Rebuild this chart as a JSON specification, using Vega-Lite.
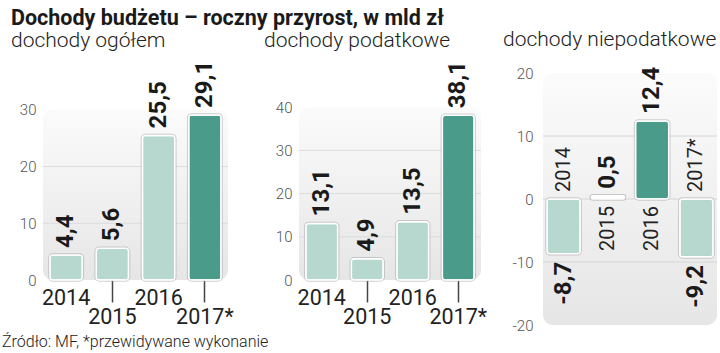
{
  "$schema": "https://vega.github.io/schema/vega-lite/v6.json",
  "padding": {"left": 2, "top": 7, "right": 0, "bottom": 0},
  "background": "#ffffff",
  "datasets": {
    "ogolem": [
      {"rok": "2014", "wartosc": 4.4},
      {"rok": "2015", "wartosc": 5.6},
      {"rok": "2016", "wartosc": 25.5},
      {"rok": "2017*", "wartosc": 29.1}
    ],
    "podatkowe": [
      {"rok": "2014", "wartosc": 13.1},
      {"rok": "2015", "wartosc": 4.9},
      {"rok": "2016", "wartosc": 13.5},
      {"rok": "2017*", "wartosc": 38.1}
    ],
    "niepodatkowe": [
      {"rok": "2014", "wartosc": -8.7},
      {"rok": "2015", "wartosc": 0.5},
      {"rok": "2016", "wartosc": 12.4},
      {"rok": "2017*", "wartosc": -9.2}
    ]
  },
  "title": {
    "text": "Dochody budżetu – roczny przyrost, w mld zł",
    "anchor": "start",
    "frame": "bounds",
    "dx": 9,
    "offset": -17,
    "baseline": "alphabetic",
    "font": "Roboto",
    "fontSize": 21.5,
    "fontWeight": "bold",
    "color": "#1a1a1a"
  },
  "vconcat": [
    {
      "title": {
        "text": "Źródło: MF, *przewidywane wykonanie",
        "orient": "bottom",
        "anchor": "start",
        "frame": "bounds",
        "dx": -9,
        "offset": 1,
        "font": "Roboto",
        "fontSize": 16,
        "fontWeight": 300,
        "color": "#222222"
      },
      "spacing": 30,
      "hconcat": [
        {
          "width": 185,
          "height": 207,
          "title": {"text": "dochody ogółem", "anchor": "start", "frame": "group", "dx": -32, "offset": -7, "baseline": "alphabetic", "font": "Roboto", "fontWeight": 300, "fontSize": 21, "color": "#222222"},
          "resolve": {"scale": {"x": "independent"}, "axis": {"x": "independent"}},
          "layer": [
            {"data": {"values": [{}]},
              "mark": {"type": "rect", "cornerRadius": 10, "fill": {"gradient": "linear", "x1": 0, "y1": 0, "x2": 0, "y2": 1, "stops": [{"offset": 0, "color": "#fbfbfb"}, {"offset": 1, "color": "#e6e6e6"}]}},
              "encoding": {
                "x": {"datum": 0, "type": "quantitative", "scale": {"domain": [0, 1], "nice": false, "zero": false}, "axis": null},
                "x2": {"datum": 1},
                "y": {"datum": 0, "type": "quantitative", "scale": {"domain": [0, 36.5], "nice": false}, "axis": {"title": null, "values": [0, 10, 20, 30], "format": "d"}},
                "y2": {"datum": 30}
              }},
            {"data": {"values": [{"siatka": 10}, {"siatka": 20}]},
              "mark": {"type": "rule", "color": "#dcdcdc", "strokeWidth": 1},
              "encoding": {"y": {"field": "siatka", "type": "quantitative"}}},
            {"data": {"name": "ogolem"},
              "encoding": {
                "x": {"field": "rok", "type": "nominal", "sort": null,
                  "scale": {"paddingInner": 0.3, "paddingOuter": 0.15},
                  "axis": {"title": null, "domain": false, "labelAngle": 0, "labelOverlap": false, "labelFont": "Roboto", "labelFontSize": 21.5, "labelColor": "#222222", "tickColor": "#444444", "tickWidth": 1.5,
                    "tickSize": {"condition": {"test": "datum.value === '2015' || datum.value === '2017*'", "value": 22}, "value": 0},
                    "labelPadding": {"condition": {"test": "datum.value === '2015' || datum.value === '2017*'", "value": 4}, "value": 7}}},
                "y": {"field": "wartosc", "type": "quantitative"}
              },
              "layer": [
                {"mark": {"type": "bar", "cornerRadius": 3, "fill": "#ffffff", "stroke": "#9a9a9a", "strokeWidth": 3.5, "strokeOpacity": 0.45}},
                {"mark": {"type": "bar", "cornerRadius": 3, "stroke": "#ffffff", "strokeWidth": 1.5},
                  "encoding": {"fill": {"condition": {"test": "datum.rok === '2017*'", "value": "#4b9b8b"}, "value": "#b6d8cf"}}},
                {"mark": {"type": "text", "angle": 270, "align": "left", "baseline": "middle", "dx": 7, "font": "Roboto", "fontSize": 24, "fontWeight": "bold", "fill": "#1a1a1a"},
                  "encoding": {"text": {"field": "wartosc", "type": "quantitative", "format": ".1f"}}}
              ]}
          ]
        },
        {
          "spacing": 16,
          "hconcat": [
            {
              "width": 182,
              "height": 207,
              "title": {"text": "dochody podatkowe", "anchor": "start", "frame": "group", "dx": -35, "offset": -7, "baseline": "alphabetic", "font": "Roboto", "fontWeight": 300, "fontSize": 21, "color": "#222222"},
              "resolve": {"scale": {"x": "independent"}, "axis": {"x": "independent"}},
              "layer": [
                {"data": {"values": [{}]},
                  "mark": {"type": "rect", "cornerRadius": 10, "fill": {"gradient": "linear", "x1": 0, "y1": 0, "x2": 0, "y2": 1, "stops": [{"offset": 0, "color": "#fbfbfb"}, {"offset": 1, "color": "#e6e6e6"}]}},
                  "encoding": {
                    "x": {"datum": 0, "type": "quantitative", "scale": {"domain": [0, 1], "nice": false, "zero": false}, "axis": null},
                    "x2": {"datum": 1},
                    "y": {"datum": 0, "type": "quantitative", "scale": {"domain": [0, 47.9], "nice": false}, "axis": {"title": null, "values": [0, 10, 20, 30, 40], "format": "d"}},
                    "y2": {"datum": 40}
                  }},
                {"data": {"values": [{"siatka": 10}, {"siatka": 20}, {"siatka": 30}]},
                  "mark": {"type": "rule", "color": "#dcdcdc", "strokeWidth": 1},
                  "encoding": {"y": {"field": "siatka", "type": "quantitative"}}},
                {"data": {"name": "podatkowe"},
                  "encoding": {
                    "x": {"field": "rok", "type": "nominal", "sort": null,
                      "scale": {"paddingInner": 0.3, "paddingOuter": 0.15},
                      "axis": {"title": null, "domain": false, "labelAngle": 0, "labelOverlap": false, "labelFont": "Roboto", "labelFontSize": 21.5, "labelColor": "#222222", "tickColor": "#444444", "tickWidth": 1.5,
                        "tickSize": {"condition": {"test": "datum.value === '2015' || datum.value === '2017*'", "value": 22}, "value": 0},
                        "labelPadding": {"condition": {"test": "datum.value === '2015' || datum.value === '2017*'", "value": 4}, "value": 7}}},
                    "y": {"field": "wartosc", "type": "quantitative"}
                  },
                  "layer": [
                    {"mark": {"type": "bar", "cornerRadius": 3, "fill": "#ffffff", "stroke": "#9a9a9a", "strokeWidth": 3.5, "strokeOpacity": 0.45}},
                    {"mark": {"type": "bar", "cornerRadius": 3, "stroke": "#ffffff", "strokeWidth": 1.5},
                      "encoding": {"fill": {"condition": {"test": "datum.rok === '2017*'", "value": "#4b9b8b"}, "value": "#b6d8cf"}}},
                    {"mark": {"type": "text", "angle": 270, "align": "left", "baseline": "middle", "dx": 7, "font": "Roboto", "fontSize": 24, "fontWeight": "bold", "fill": "#1a1a1a"},
                      "encoding": {"text": {"field": "wartosc", "type": "quantitative", "format": ".1f"}}}
                  ]}
              ]
            },
            {
              "width": 174,
              "height": 252,
              "title": {"text": "dochody niepodatkowe", "anchor": "start", "frame": "group", "dx": -40, "offset": -1, "baseline": "alphabetic", "font": "Roboto", "fontWeight": 300, "fontSize": 21, "color": "#222222"},
              "resolve": {"scale": {"x": "independent"}, "axis": {"x": "independent"}},
              "layer": [
                {"data": {"values": [{}]},
                  "mark": {"type": "rect", "cornerRadius": 10, "fill": {"gradient": "linear", "x1": 0, "y1": 0, "x2": 0, "y2": 1, "stops": [{"offset": 0, "color": "#fbfbfb"}, {"offset": 1, "color": "#e6e6e6"}]}},
                  "encoding": {
                    "x": {"datum": 0, "type": "quantitative", "scale": {"domain": [0, 1], "nice": false, "zero": false}, "axis": null},
                    "x2": {"datum": 1},
                    "y": {"datum": -20, "type": "quantitative", "scale": {"domain": [-20, 20], "nice": false}, "axis": {"title": null, "values": [-20, -10, 0, 10, 20], "format": "d", "labelPadding": 10}},
                    "y2": {"datum": 20}
                  }},
                {"data": {"values": [{"siatka": -10}, {"siatka": 0}, {"siatka": 10}]},
                  "mark": {"type": "rule", "color": "#d6d6d6", "strokeWidth": 1},
                  "encoding": {"y": {"field": "siatka", "type": "quantitative"}}},
                {"data": {"name": "niepodatkowe"},
                  "encoding": {
                    "x": {"field": "rok", "type": "nominal", "sort": null,
                      "scale": {"paddingInner": 0.25, "paddingOuter": 0.09},
                      "axis": null},
                    "y": {"field": "wartosc", "type": "quantitative"}
                  },
                  "layer": [
                    {"mark": {"type": "bar", "cornerRadius": 3, "fill": "#ffffff", "stroke": "#9a9a9a", "strokeWidth": 3.5, "strokeOpacity": 0.45}},
                    {"mark": {"type": "bar", "cornerRadius": 3, "stroke": "#ffffff", "strokeWidth": 1.5},
                      "encoding": {"fill": {"condition": [{"test": "datum.rok === '2016'", "value": "#4b9b8b"}, {"test": "datum.rok === '2015'", "value": "#ffffff"}], "value": "#b6d8cf"}}},
                    {"transform": [{"filter": "datum.wartosc >= 0"}],
                      "mark": {"type": "text", "angle": 270, "align": "left", "baseline": "middle", "dx": 7, "font": "Roboto", "fontSize": 24, "fontWeight": "bold", "fill": "#1a1a1a"},
                      "encoding": {"text": {"field": "wartosc", "type": "quantitative", "format": ".1f"}}},
                    {"transform": [{"filter": "datum.wartosc < 0"}],
                      "mark": {"type": "text", "angle": 270, "align": "right", "baseline": "middle", "dx": -8, "font": "Roboto", "fontSize": 24, "fontWeight": "bold", "fill": "#1a1a1a"},
                      "encoding": {"text": {"field": "wartosc", "type": "quantitative", "format": ".1f"}}},
                    {"transform": [{"filter": "datum.wartosc < 0"}],
                      "mark": {"type": "text", "angle": 270, "align": "left", "baseline": "middle", "dx": 7, "font": "Roboto", "fontSize": 20, "fill": "#222222"},
                      "encoding": {"y": {"datum": 0, "type": "quantitative"}, "text": {"field": "rok", "type": "nominal"}}},
                    {"transform": [{"filter": "datum.wartosc >= 0"}],
                      "mark": {"type": "text", "angle": 270, "align": "right", "baseline": "middle", "dx": -7, "font": "Roboto", "fontSize": 20, "fill": "#222222"},
                      "encoding": {"y": {"datum": 0, "type": "quantitative"}, "text": {"field": "rok", "type": "nominal"}}}
                  ]}
              ]
            }
          ]
        }
      ]
    }
  ],
  "config": {
    "locale": {"number": {"decimal": ",", "thousands": " ", "grouping": [3], "currency": ["", " zł"], "minus": "-"}},
    "view": {"stroke": null},
    "axisY": {"domain": false, "ticks": false, "grid": false, "labelFont": "Roboto", "labelFontWeight": 300, "labelFontSize": 15, "labelColor": "#555555", "labelPadding": 7}
  }
}
